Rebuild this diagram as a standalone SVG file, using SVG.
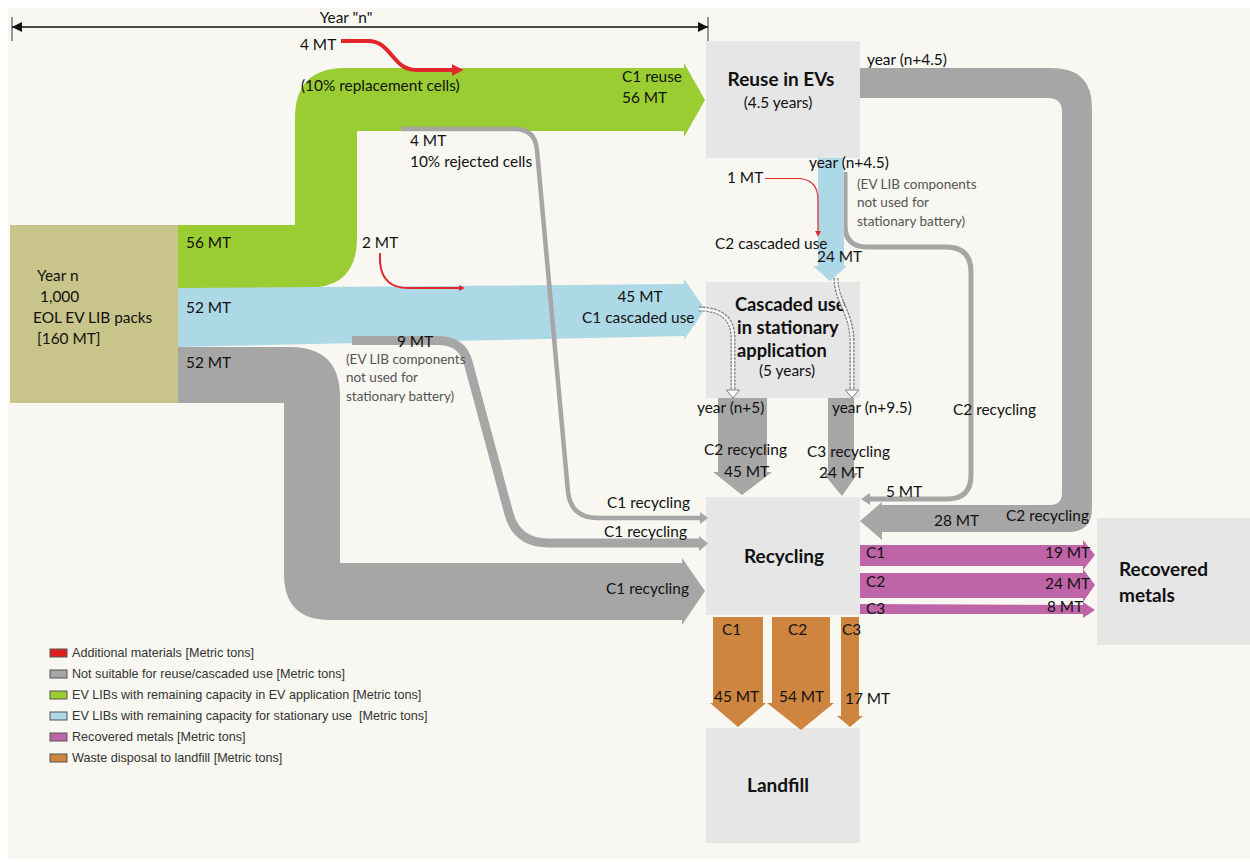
<svg xmlns="http://www.w3.org/2000/svg" width="1250" height="862" viewBox="0 0 1250 862">
  <defs>
    <style>
      .lbl { font-family: Lato, "Liberation Sans", sans-serif; font-size: 15.4px; fill: #111111; }
      .note { font-family: Lato, "Liberation Sans", sans-serif; font-size: 13.5px; fill: #555555; }
      .title { font-family: Lato, "Liberation Sans", sans-serif; font-size: 19px; font-weight: bold; fill: #111111; }
      .title-s { font-family: Lato, "Liberation Sans", sans-serif; font-size: 18.3px; font-weight: bold; fill: #111111; }
      .legend { font-family: "Liberation Sans", Arial, sans-serif; font-size: 12.6px; fill: #333333; white-space: pre; }
      .box { fill: #e6e6e6; }
      .gray { fill: #a6a6a6; }
      .grayline { fill: none; stroke: #a6a6a6; }
      .green { fill: #9acd32; }
      .blue { fill: #add8e6; }
      .purple { fill: #c064a8; }
      .orange { fill: #cd853f; }
      .red { fill: none; stroke: #e3262a; }
      .dbl-out { fill: none; stroke: #808080; stroke-width: 5; stroke-dasharray: 2.5 1.2; }
      .dbl-in { fill: none; stroke: #f6f6f6; stroke-width: 2.4; }
      .hollow { fill: #ffffff; stroke: #808080; stroke-width: 1; }
      .swatch { stroke: #555555; stroke-width: 1; }
    </style>
    <marker id="redHead" viewBox="0 0 10 10" refX="2" refY="5" markerWidth="3" markerHeight="3" orient="auto" markerUnits="strokeWidth">
      <path d="M0,0 L10,5 L0,10 Z" fill="#e3262a"/>
    </marker>
    <marker id="redHeadThin" viewBox="0 0 10 10" refX="2" refY="5" markerWidth="5" markerHeight="5" orient="auto" markerUnits="strokeWidth">
      <path d="M0,0 L10,5 L0,10 Z" fill="#e3262a"/>
    </marker>
    <marker id="dimHead" viewBox="0 0 10 10" refX="10" refY="5" markerWidth="12" markerHeight="10" orient="auto-start-reverse" markerUnits="userSpaceOnUse">
      <path d="M0,0 L10,5 L0,10 Z" fill="#111111"/>
    </marker>
  </defs>

  <!-- page -->
  <rect x="0" y="0" width="1250" height="862" fill="#ffffff"/>
  <rect x="8" y="8" width="1242" height="851" fill="#f8f7f1"/>

  <!-- time span bar -->
  <g id="timespan">
    <line x1="12" y1="27" x2="708" y2="27" stroke="#111111" stroke-width="1.3" marker-start="url(#dimHead)" marker-end="url(#dimHead)"/>
    <line x1="12" y1="17" x2="12" y2="41" stroke="#333333" stroke-width="1"/>
    <line x1="708" y1="17" x2="708" y2="41" stroke="#333333" stroke-width="1"/>
    <text class="lbl" x="346" y="23" text-anchor="middle">Year "n"</text>
  </g>

  <!-- nodes -->
  <g id="node-source">
    <rect x="10" y="225" width="168" height="178" fill="#c8c48a"/>
    <text class="lbl" x="37" y="281">Year n</text>
    <text class="lbl" x="40" y="302">1,000</text>
    <text class="lbl" x="33" y="323">EOL EV LIB packs</text>
    <text class="lbl" x="37" y="344">[160 MT]</text>
  </g>
  <g id="node-reuse">
    <rect class="box" x="706" y="41" width="154" height="117"/>
    <text class="title" x="781" y="86" text-anchor="middle">Reuse in EVs</text>
    <text class="lbl" x="778" y="108" text-anchor="middle">(4.5 years)</text>
  </g>
  <g id="node-cascaded">
    <rect class="box" x="706" y="282" width="154" height="116"/>
    <text class="title-s" x="735" y="311">Cascaded use</text>
    <text class="title-s" x="737" y="334">in stationary</text>
    <text class="title-s" x="737" y="357">application</text>
    <text class="lbl" x="759" y="376">(5 years)</text>
  </g>
  <g id="node-recycling">
    <rect class="box" x="706" y="497" width="154" height="118"/>
    <text class="title" x="784" y="563" text-anchor="middle">Recycling</text>
  </g>
  <g id="node-landfill">
    <rect class="box" x="706" y="728" width="154" height="115"/>
    <text class="title" x="778" y="792" text-anchor="middle">Landfill</text>
  </g>
  <g id="node-metals">
    <rect class="box" x="1097" y="518" width="153" height="127"/>
    <text class="title" x="1119" y="576">Recovered</text>
    <text class="title" x="1119" y="602">metals</text>
  </g>

  <!-- connectors / flows -->
  <g id="connectors">
    <!-- EV reuse (green) -->
    <path class="green" d="M178,225 H295 V118 Q295,68 345,68 H684 V63 L705,100 L684,137 V131 H357 V238 Q357,288 307,288 H178 Z"/>
    <!-- stationary use (blue) -->
    <path class="blue" d="M178,288 L684,284 V279 L705,309 L684,340 V336 L178,347 Z"/>
    <!-- not suitable (gray) -->
    <path class="gray" d="M178,347 H290 Q340,347 340,397 V563 H682 V558 L705,591 L682,625 V620 H330 Q284,620 284,574 V403 H178 Z"/>
    <!-- 9 MT components -->
    <path class="grayline" stroke-width="9" d="M352,340.5 H438 Q462,340.5 468,362 L509,514 Q517,543 548,543 H699"/>
    <path class="gray" d="M699,536 L708,543.5 L699,551 Z"/>
    <!-- 4 MT rejected cells -->
    <path class="grayline" stroke-width="4.5" d="M401,129 H515 Q535,129 537,150 L568,492 Q571,518 598,518 H700"/>
    <path class="gray" d="M700,512 L708,518 L700,524 Z"/>
    <!-- 5 MT components from EV reuse -->
    <path class="grayline" stroke-width="5" d="M845,172 V225 Q845,247 867,247 H946 Q971,247 971,272 V475 Q971,499 947,499 H869"/>
    <path class="gray" d="M870,493 L861,499 L870,505 Z"/>
    <!-- 28 MT after EV reuse -->
    <path class="gray" d="M860,68 H1052 Q1092,68 1092,108 V508 Q1092,532 1068,532 H882 V540 L860,521 L882,502 V505 H1050 Q1062,505 1062,493 V112 Q1062,98 1048,98 H860 Z"/>
    <!-- 24 MT cascaded from EV reuse (blue) -->
    <path class="blue" d="M818,158 H844 V266 H847 L830,281 L813,266 H818 Z"/>
    <!-- recycling after stationary use -->
    <path class="gray" d="M718,398 H767 V472 H772 L742,495 L713,472 H718 Z"/>
    <path class="gray" d="M828,398 H854 V473 H858 L842,496 L823,473 H828 Z"/>
    <!-- recovered metals -->
    <path class="purple" d="M860,545 H1083 V540 L1095,555 L1083,570 V566 H860 Z"/>
    <path class="purple" d="M860,573 H1083 V569 L1095,585 L1083,602 V598 H860 Z"/>
    <path class="purple" d="M860,604 L1083,605 V602 L1095,610 L1083,618 V614 L860,614 Z"/>
    <!-- landfill -->
    <path class="orange" d="M713,617 H763 V703 H766 L738,727 L710,703 H713 Z"/>
    <path class="orange" d="M772,617 H830 V703 H834 L801,730 L767,703 H772 Z"/>
    <path class="orange" d="M841,617 H859 V716 H863 L850,727 L837,716 H841 Z"/>
    <!-- additional materials (red) -->
    <path class="red" stroke-width="4" d="M341,41 H368 C392,41 392,70 416,70 H454" marker-end="url(#redHead)"/>
    <path class="red" stroke-width="2" d="M380,253 V262 Q382,288 408,288 H460" marker-end="url(#redHead)"/>
    <path class="red" stroke-width="1.2" d="M765,178.5 H797 Q818,178.5 818,200 V232" marker-end="url(#redHeadThin)"/>
    <!-- end-of-life transfers (double lines) -->
    <path class="dbl-out" d="M699,309 Q733,309 733,338 V391"/>
    <path class="dbl-in" d="M699,309 Q733,309 733,338 V391"/>
    <path class="hollow" d="M726.5,390 H739.5 L733,398 Z"/>
    <path class="dbl-out" d="M836,278 C836,302 852,312 852,342 V391"/>
    <path class="dbl-in" d="M836,278 C836,302 852,312 852,342 V391"/>
    <path class="hollow" d="M845.5,390 H858.5 L852,398 Z"/>
  </g>

  <!-- flow labels -->
  <g id="labels">
    <text class="lbl" x="300" y="50">4 MT</text>
    <text class="lbl" x="301" y="91">(10% replacement cells)</text>
    <text class="lbl" x="622" y="82">C1 reuse</text>
    <text class="lbl" x="622" y="103">56 MT</text>
    <text class="lbl" x="410" y="146">4 MT</text>
    <text class="lbl" x="410" y="167">10% rejected cells</text>
    <text class="lbl" x="186" y="248">56 MT</text>
    <text class="lbl" x="362" y="248">2 MT</text>
    <text class="lbl" x="186" y="313">52 MT</text>
    <text class="lbl" x="640" y="302" text-anchor="middle">45 MT</text>
    <text class="lbl" x="582" y="323">C1 cascaded use</text>
    <text class="lbl" x="186" y="368">52 MT</text>
    <text class="lbl" x="397" y="347">9 MT</text>
    <text class="note" x="346" y="364">(EV LIB components</text>
    <text class="note" x="346" y="382">not used for</text>
    <text class="note" x="346" y="401">stationary battery)</text>
    <text class="lbl" x="867" y="65">year (n+4.5)</text>
    <text class="lbl" x="809" y="168">year (n+4.5)</text>
    <text class="lbl" x="727" y="183">1 MT</text>
    <text class="note" x="857" y="189">(EV LIB components</text>
    <text class="note" x="857" y="207">not used for</text>
    <text class="note" x="857" y="226">stationary battery)</text>
    <text class="lbl" x="715" y="249">C2 cascaded use</text>
    <text class="lbl" x="817" y="262">24 MT</text>
    <text class="lbl" x="697" y="413">year (n+5)</text>
    <text class="lbl" x="832" y="413">year (n+9.5)</text>
    <text class="lbl" x="953" y="415">C2 recycling</text>
    <text class="lbl" x="704" y="455">C2 recycling</text>
    <text class="lbl" x="724" y="477">45 MT</text>
    <text class="lbl" x="807" y="457">C3 recycling</text>
    <text class="lbl" x="819" y="478">24 MT</text>
    <text class="lbl" x="886" y="497">5 MT</text>
    <text class="lbl" x="607" y="508">C1 recycling</text>
    <text class="lbl" x="604" y="537">C1 recycling</text>
    <text class="lbl" x="606" y="594">C1 recycling</text>
    <text class="lbl" x="934" y="526">28 MT</text>
    <text class="lbl" x="1006" y="521">C2 recycling</text>
    <text class="lbl" x="866" y="558">C1</text>
    <text class="lbl" x="1045" y="558">19 MT</text>
    <text class="lbl" x="866" y="587">C2</text>
    <text class="lbl" x="1045" y="589">24 MT</text>
    <text class="lbl" x="866" y="614">C3</text>
    <text class="lbl" x="1047" y="612">8 MT</text>
    <text class="lbl" x="722" y="635">C1</text>
    <text class="lbl" x="788" y="635">C2</text>
    <text class="lbl" x="842" y="635">C3</text>
    <text class="lbl" x="714" y="702">45 MT</text>
    <text class="lbl" x="779" y="702">54 MT</text>
    <text class="lbl" x="845" y="704">17 MT</text>
  </g>

  <!-- legend -->
  <g id="legend">
    <rect class="swatch" x="50" y="649" width="17" height="8" fill="#e02020"/>
    <text class="legend" x="72" y="657">Additional materials [Metric tons]</text>
    <rect class="swatch" x="50" y="670" width="17" height="8" fill="#a6a6a6"/>
    <text class="legend" x="72" y="678">Not suitable for reuse/cascaded use [Metric tons]</text>
    <rect class="swatch" x="50" y="691" width="17" height="8" fill="#9acd32"/>
    <text class="legend" x="72" y="699">EV LIBs with remaining capacity in EV application [Metric tons]</text>
    <rect class="swatch" x="50" y="712" width="17" height="8" fill="#add8e6"/>
    <text class="legend" x="72" y="720">EV LIBs with remaining capacity for stationary use  [Metric tons]</text>
    <rect class="swatch" x="50" y="733" width="17" height="8" fill="#c064a8"/>
    <text class="legend" x="72" y="741">Recovered metals [Metric tons]</text>
    <rect class="swatch" x="50" y="754" width="17" height="8" fill="#cd853f"/>
    <text class="legend" x="72" y="762">Waste disposal to landfill [Metric tons]</text>
  </g>
</svg>
